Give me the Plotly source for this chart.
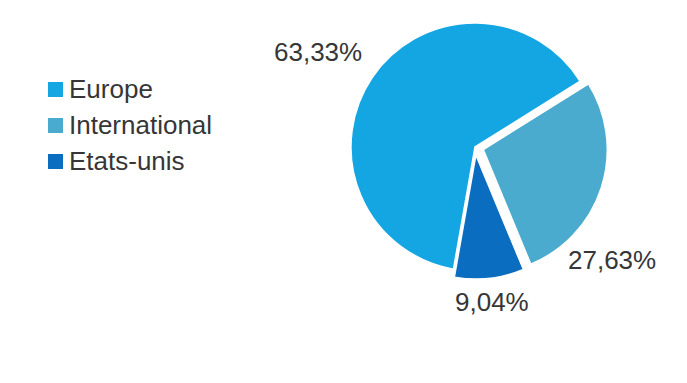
import plotly.graph_objects as go

# Répartition du chiffre d'affaires par zone
labels = ["Europe", "International", "Etats-unis"]
values = [63.33, 27.63, 9.04]
colors = ["#14a6e2", "#4aabcf", "#0b6dbf"]
pulls = [0.0, 0.07, 0.065]

W, H = 687, 383
FONT = "Liberation Sans, Arial, sans-serif"
TEXT_COLOR = "#363636"


def px(x):
    return x / W


def py(y):
    return 1 - y / H


fig = go.Figure(
    go.Pie(
        labels=labels,
        values=values,
        marker=dict(colors=colors, line=dict(color="white", width=1.5)),
        pull=pulls,
        sort=False,
        direction="clockwise",
        rotation=190,
        textinfo="none",
        hoverinfo="label+percent",
        showlegend=False,
        domain=dict(x=[px(342.3), px(607.7)], y=[py(279.7), py(14.3)]),
    )
)

# Étiquettes de pourcentage autour du camembert
label_pos = [(318, 52), (612, 260), (492, 302)]
annotations = []
for v, (x, y) in zip(values, label_pos):
    annotations.append(
        dict(
            x=px(x), y=py(y), xref="paper", yref="paper",
            text=f"{v:.2f}".replace(".", ",") + "%",
            showarrow=False, xanchor="center", yanchor="middle",
            font=dict(family=FONT, size=26, color=TEXT_COLOR),
        )
    )

# Légende dessinée à la main : carré de couleur + libellé
shapes = []
legend_rows = [89, 125, 161]
for lab, col, y in zip(labels, colors, legend_rows):
    shapes.append(
        dict(
            type="rect", xref="paper", yref="paper",
            x0=px(48), x1=px(63), y0=py(y + 8), y1=py(y - 7),
            fillcolor=col, line=dict(width=0),
        )
    )
    annotations.append(
        dict(
            x=px(67), y=py(y), xref="paper", yref="paper",
            text=lab, showarrow=False, xanchor="left", yanchor="middle",
            font=dict(family=FONT, size=26, color=TEXT_COLOR),
        )
    )

fig.update_layout(
    width=W,
    height=H,
    margin=dict(l=0, r=0, t=0, b=0),
    paper_bgcolor="white",
    plot_bgcolor="white",
    annotations=annotations,
    shapes=shapes,
)

fig.write_html("out.html")
